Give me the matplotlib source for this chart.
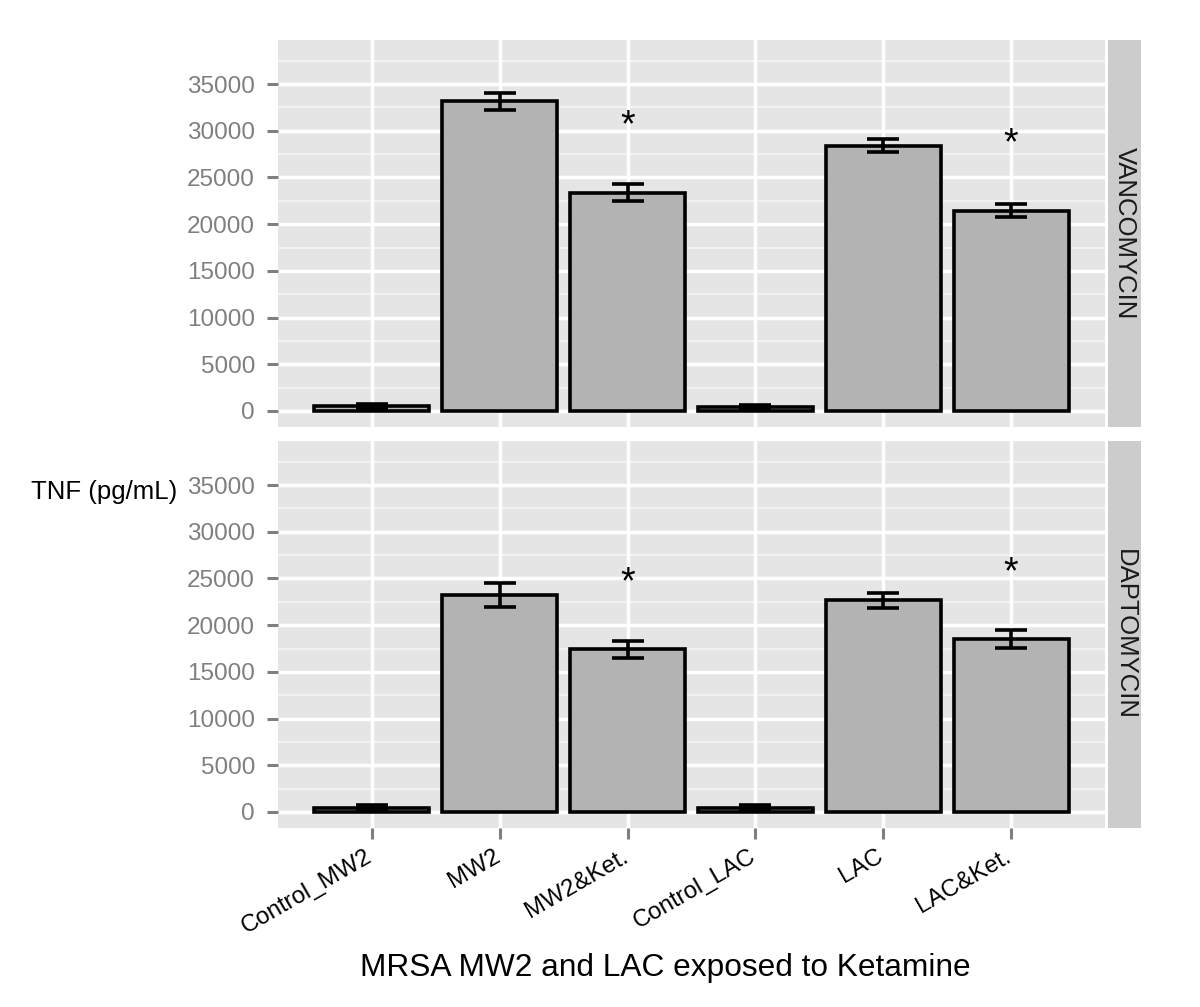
import matplotlib
matplotlib.use("Agg")
import matplotlib.pyplot as plt
import matplotlib.transforms as mtransforms
import numpy as np

plt.rcParams['font.family'] = ['Liberation Sans', 'DejaVu Sans']

categories = ["Control_MW2", "MW2", "MW2&Ket.", "Control_LAC", "LAC", "LAC&Ket."]
panels = ["VANCOMYCIN", "DAPTOMYCIN"]

vanco_mean = [500, 33150, 23350, 420, 28400, 21450]
vanco_err = [250, 900, 900, 230, 700, 700]
dapto_mean = [480, 23200, 17400, 470, 22650, 18500]
dapto_err = [250, 1270, 890, 250, 800, 940]

# significance stars: category index and height of the star
vanco_star_idx = [2, 5]
vanco_star_y = [31260, 29370]
dapto_star_idx = [2, 5]
dapto_star_y = [25290, 26350]

yticks = [0, 5000, 10000, 15000, 20000, 25000, 30000, 35000]
ylim = (-1713, 39720)

W, H = 1200, 1007
fig = plt.figure(figsize=(W / 100, H / 100), dpi=100)

left_px, right_px = 278, 1105
panel_px = [(40, 427), (441, 828)]
strip_px = (1108, 1141)

data = [(vanco_mean, vanco_err, vanco_star_idx, vanco_star_y),
        (dapto_mean, dapto_err, dapto_star_idx, dapto_star_y)]

STAR_FS = 27
x = np.arange(1, len(categories) + 1)
for i, (top, bot) in enumerate(panel_px):
    ax = fig.add_axes([left_px / W, 1 - bot / H, (right_px - left_px) / W, (bot - top) / H])
    mean, err, sidx, sy = data[i]
    ax.set_facecolor('#E5E5E5')
    ax.set_xlim(0.265, 6.735)
    ax.set_ylim(*ylim)
    for v in np.arange(2500, 40000, 5000):
        ax.axhline(v, color='#F2F2F2', lw=1.4, zorder=0.5)
    for v in yticks:
        ax.axhline(v, color='white', lw=2.5, zorder=0.6)
    for xv in x:
        ax.axvline(xv, color='white', lw=2.5, zorder=0.6)
    ax.bar(x, mean, width=0.9, color='#B3B3B3', edgecolor='black', linewidth=2.6, zorder=2)
    ax.errorbar(x, mean, yerr=err, fmt='none', ecolor='black', elinewidth=2.6,
                capsize=11.5, capthick=2.6, zorder=3)
    for k, yv in zip(sidx, sy):
        ax.annotate("*", xy=(x[k], yv), xytext=(0, -0.47 * STAR_FS), textcoords='offset points',
                    ha='center', va='baseline', fontsize=STAR_FS, color='black', zorder=4)
    ax.set_yticks(yticks)
    ax.set_yticklabels([str(v) for v in yticks])
    ax.tick_params(axis='y', colors='#7F7F7F', labelcolor='#7F7F7F', labelsize=17.5,
                   length=8, width=2.2, pad=8.5)
    ax.set_xticks(x)
    if i == 0:
        ax.tick_params(axis='x', length=0, labelbottom=False)
    else:
        ax.set_xticklabels(categories, rotation=30, ha='right', va='top',
                           rotation_mode='anchor')
        ax.tick_params(axis='x', colors='#7F7F7F', labelcolor='black', labelsize=17.3,
                       length=8, width=2.2, pad=6)
        off = mtransforms.ScaledTranslation(-7 / 100, 2 / 100, fig.dpi_scale_trans)
        for lab in ax.get_xticklabels():
            lab.set_transform(lab.get_transform() + off)
    for s in ax.spines.values():
        s.set_visible(False)
    sax = fig.add_axes([strip_px[0] / W, 1 - bot / H, (strip_px[1] - strip_px[0]) / W, (bot - top) / H])
    sax.set_facecolor('#CCCCCC')
    sax.set_xticks([]); sax.set_yticks([])
    for s in sax.spines.values():
        s.set_visible(False)
    sax.text(0.5, 0.5, panels[i], rotation=-90, ha='center', va='center',
             fontsize=18.5, color='#1A1A1A', transform=sax.transAxes)

fig.text(104 / W, 1 - 492 / H, "TNF (pg/mL)", ha='center', va='center', fontsize=18.5, color='black')
fig.text(665 / W, 1 - 968 / H, "MRSA MW2 and LAC exposed to Ketamine", ha='center', va='center',
         fontsize=22.8, color='black')

fig.savefig("out.png", dpi=100, facecolor='white')
